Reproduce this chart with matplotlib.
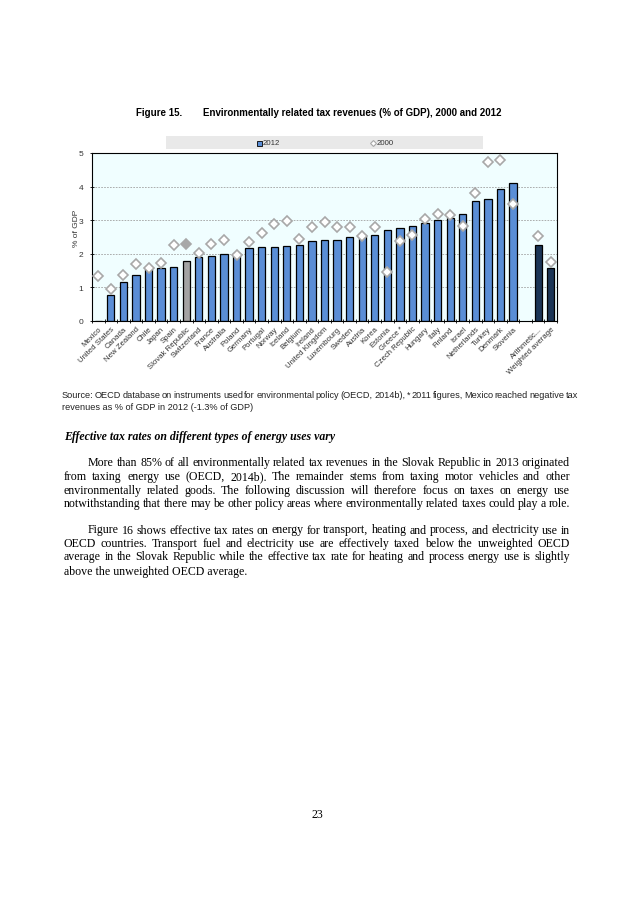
import numpy as np
import matplotlib
matplotlib.use("Agg")
import matplotlib.pyplot as plt
from matplotlib.patches import Rectangle
from matplotlib.lines import Line2D

# ---------------- data ----------------
countries = ["Mexico", "United States", "Canada", "New Zealand", "Chile", "Japan", "Spain",
             "Slovak Republic", "Switzerland", "France", "Australia", "Poland", "Germany",
             "Portugal", "Norway", "Iceland", "Belgium", "Ireland", "United Kingdom",
             "Luxembourg", "Sweden", "Austria", "Korea", "Estonia", "Greece *",
             "Czech Republic", "Hungary", "Italy", "Finland", "Israel", "Netherlands",
             "Turkey", "Denmark", "Slovenia", "", "Arithmetic...", "Weighted average"]
val_2012 = [-1.3, 0.78, 1.16, 1.38, 1.54, 1.58, 1.62, 1.79, 1.90, 1.94, 1.99, 2.02, 2.17,
            2.20, 2.20, 2.23, 2.26, 2.38, 2.41, 2.41, 2.50, 2.55, 2.56, 2.71, 2.77, 2.83,
            2.92, 3.02, 3.07, 3.18, 3.58, 3.63, 3.93, 4.11, np.nan, 2.26, 1.58]
val_2000 = [1.34, 0.96, 1.38, 1.70, 1.58, 1.73, 2.25, 2.28, 2.03, 2.28, 2.42, 1.97, 2.36,
            2.62, 2.89, 2.98, 2.43, 2.81, 2.95, 2.79, 2.81, 2.53, 2.80, 1.47, 2.39, 2.55,
            3.03, 3.19, 3.14, 2.83, 3.80, 4.73, 4.80, 3.49, np.nan, 2.53, 1.77]
yticks = [0, 1, 2, 3, 4, 5]
highlight = "Slovak Republic"
averages = ["Arithmetic...", "Weighted average"]

# ---------------- figure ----------------
W, H = 638, 903
fig = plt.figure(figsize=(W / 100, H / 100), dpi=100)
fig.patch.set_facecolor("white")

def fx(px):
    return px / W

def fy(py):
    return 1 - py / H

SANS = "Liberation Sans"
SERIF = "Liberation Serif"

BLUE = "#5A8ED6"
NAVY = "#1B3556"
GRAY = "#A3A3A3"
DIAM = "#A8A8A8"

ax = fig.add_axes([fx(92), fy(322), fx(557) - fx(92), fy(154) - fy(322)])
ax.set_facecolor("#F0FEFF")

x = np.arange(len(countries))
colors = []
for c in countries:
    if c == highlight:
        colors.append(GRAY)
    elif c in averages:
        colors.append(NAVY)
    else:
        colors.append(BLUE)

ax.bar(x, val_2012, width=0.58, color=colors, edgecolor="black", linewidth=0.9, zorder=2)

for i, (c, v) in enumerate(zip(countries, val_2000)):
    if np.isnan(v):
        continue
    face = DIAM if c == highlight else "white"
    ax.plot([i], [v], marker="D", markersize=4.6, markerfacecolor=face,
            markeredgecolor=DIAM, markeredgewidth=1.2, linestyle="none", zorder=3)

ax.set_xlim(-0.5, len(countries) - 0.5)
ax.set_ylim(0, 5)
ax.set_yticks(yticks)
ax.set_yticklabels([str(t) for t in yticks], fontsize=6, family=SANS, color="#333333")
for t in yticks[1:-1]:
    ax.axhline(t, color="#A0A0A0", linestyle=(0, (2, 1.5)), linewidth=0.6, zorder=1)

ax.set_xticks(x)
ax.set_xticklabels(countries, rotation=45, ha="right", rotation_mode="anchor",
                   fontsize=5.6, family=SANS, color="#333333")
ax.tick_params(axis="x", which="major", length=0, pad=3)
ax.set_xticks(np.arange(len(countries) + 1) - 0.5, minor=True)
ax.tick_params(axis="x", which="minor", length=3, width=0.6, direction="inout")
ax.tick_params(axis="y", length=3, width=0.6, direction="inout", pad=5)
for s in ax.spines.values():
    s.set_color("black")
    s.set_linewidth(0.8)

fig.text(fx(76), fy(228), "% of GDP", rotation=90, ha="center", va="center",
         fontsize=6, family=SANS, color="#333333")

# legend band
fig.patches.append(Rectangle((fx(166), fy(150)), fx(483) - fx(166), fy(137) - fy(150),
                             transform=fig.transFigure, facecolor="#E9E9E9",
                             edgecolor="none", zorder=0))
fig.add_artist(Line2D([fx(259)], [fy(143.5)], transform=fig.transFigure, marker="s",
                      markersize=3.6, markerfacecolor=BLUE, markeredgecolor="black",
                      markeredgewidth=0.6, linestyle="none"))
fig.text(fx(262.5), fy(143.5), "2012", ha="left", va="center", fontsize=5.6, family=SANS,
         color="#333333")
fig.add_artist(Line2D([fx(373)], [fy(143.5)], transform=fig.transFigure, marker="D",
                      markersize=3.0, markerfacecolor="white", markeredgecolor=DIAM,
                      markeredgewidth=0.8, linestyle="none"))
fig.text(fx(376.5), fy(143.5), "2000", ha="left", va="center", fontsize=5.6, family=SANS,
         color="#333333")

# title
fig.text(fx(136), fy(113), "Figure 15.", ha="left", va="center", fontsize=7.0,
         family=SANS, weight="bold")
fig.text(fx(203), fy(113), "Environmentally related tax revenues (% of GDP), 2000 and 2012",
         ha="left", va="center", fontsize=7.0, family=SANS, weight="bold")

# ---------------- justified text helper ----------------
fig.canvas.draw()
renderer = fig.canvas.get_renderer()

def text_line(s, x0, x1, base, size, family, justify=True, **kw):
    if not justify:
        fig.text(fx(x0), fy(base), s, ha="left", va="baseline", fontsize=size,
                 family=family, **kw)
        return
    words = s.split(" ")
    objs = []
    widths = []
    for w_ in words:
        t = fig.text(0, fy(base), w_, ha="left", va="baseline", fontsize=size,
                     family=family, **kw)
        bb = t.get_window_extent(renderer=renderer)
        objs.append(t)
        widths.append(bb.width)
    gap = ((x1 - x0) - sum(widths)) / (len(words) - 1)
    cx = x0
    for t, w_ in zip(objs, widths):
        t.set_x(fx(cx))
        cx += w_ + gap

# source note
text_line("Source: OECD database on instruments used for environmental policy (OECD, 2014b), * 2011 figures, Mexico reached negative tax",
          62, 578, 398, 6.6, SANS, justify=True, color="#222222")
text_line("revenues as % of GDP in 2012 (-1.3% of GDP)",
          62, 578, 410, 6.6, SANS, justify=False, color="#222222")

# heading
fig.text(fx(64), fy(440.5), "Effective tax rates on different types of energy uses vary",
         ha="left", va="baseline", fontsize=8.5, family=SERIF, weight="bold", style="italic")

para1 = ["More than 85% of all environmentally related tax revenues in the Slovak Republic in 2013 originated",
         "from taxing energy use (OECD, 2014b). The remainder stems from taxing motor vehicles and other",
         "environmentally related goods. The following discussion will therefore focus on taxes on energy use",
         "notwithstanding that there may be other policy areas where environmentally related taxes could play a role."]
para2 = ["Figure 16 shows effective tax rates on energy for transport, heating and process, and electricity use in",
         "OECD countries. Transport fuel and electricity use are effectively taxed below the unweighted OECD",
         "average in the Slovak Republic while the effective tax rate for heating and process energy use is slightly",
         "above the unweighted OECD average."]
base1 = [466.5, 480, 494, 507]
base2 = [533.5, 547, 560.5, 574.5]
for pi, (para, bases) in enumerate(((para1, base1), (para2, base2))):
    for k, (ln, b) in enumerate(zip(para, bases)):
        x0 = 88 if k == 0 else 64
        last = (k == len(para) - 1) and pi == 1
        text_line(ln, x0, 570, b, 8.6, SERIF, justify=not last, color="black")

fig.text(fx(317), fy(818.5), "23", ha="center", va="baseline", fontsize=8.6, family=SERIF)

fig.savefig("out.png", dpi=100, facecolor="white")
